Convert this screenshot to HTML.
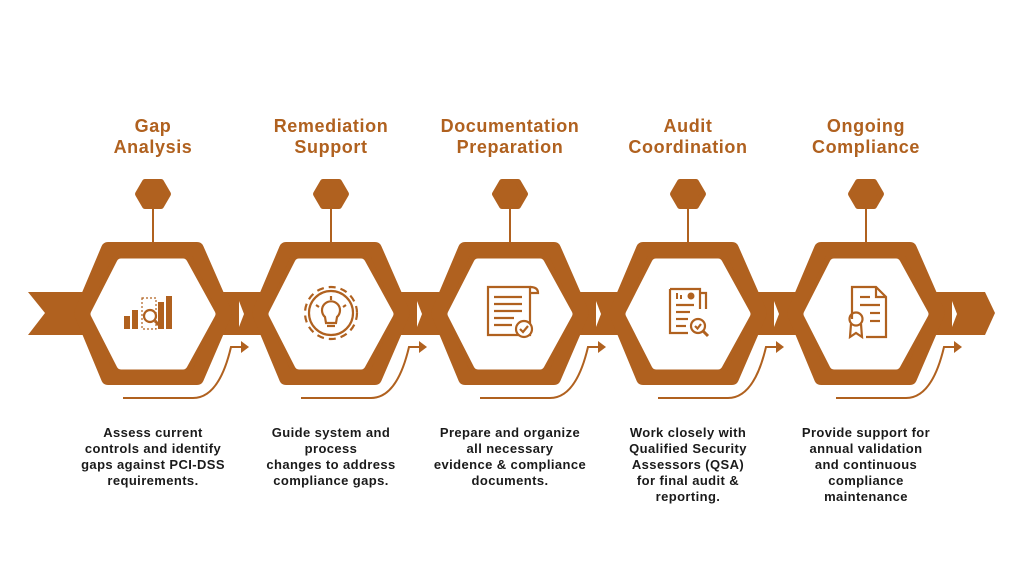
<!DOCTYPE html>
<html><head><meta charset="utf-8"><style>
html,body{margin:0;padding:0;background:#fff;}
svg{display:block}
.t{font-family:"Liberation Sans",sans-serif;font-weight:bold;font-size:18px;letter-spacing:0.6px;fill:#b0611f;text-anchor:middle}
.d{font-family:"Liberation Sans",sans-serif;font-weight:bold;font-size:13px;letter-spacing:0.4px;fill:#1a1a1a;text-anchor:middle}
</style></head><body>
<svg width="1024" height="576" viewBox="0 0 1024 576" xmlns="http://www.w3.org/2000/svg">
<defs>
<linearGradient id="g" x1="0" y1="0" x2="0" y2="1" gradientUnits="userSpaceOnUse" y1="255" y2="372">
<stop offset="0" stop-color="#dadada"/><stop offset="0.45" stop-color="#fbfbfb"/><stop offset="1" stop-color="#ffffff"/>
</linearGradient>
<g id="node">
<polygon points="-8,182 8,182 15,194 8,206 -8,206 -15,194" fill="#b0611f" stroke="#b0611f" stroke-width="6" stroke-linejoin="round"/>
<line x1="0" y1="209" x2="0" y2="244" stroke="#b0611f" stroke-width="2"/>
<polygon points="-45,249 44,249 72,313 44,378 -45,378 -72,313" fill="#b0611f" stroke="#b0611f" stroke-width="14" stroke-linejoin="round"/>
<polygon points="-32,263 30,263 58,314 30,365 -32,365 -58,314" fill="url(#g)" stroke="url(#g)" stroke-width="9" stroke-linejoin="round"/>
<path d="M-30 398 L40 398 Q66 398 78 347 L90 347" fill="none" stroke="#b0611f" stroke-width="2"/>
<polygon points="88,341 96,347 88,353" fill="#b0611f"/>
</g>
</defs>
<polygon points="28,292 985,292 995,313 985,335 28,335 45,313" fill="#b0611f"/>
<use href="#node" x="153"/>
<use href="#node" x="331"/>
<use href="#node" x="510"/>
<use href="#node" x="688"/>
<use href="#node" x="866"/>
<g fill="#fff">
<polygon points="239,301 244,314 239,327"/>
<polygon points="417,301 422,314 417,327"/>
<polygon points="596,301 601,314 596,327"/>
<polygon points="774,301 779,314 774,327"/>
<polygon points="952,301 957,314 952,327"/>
</g>
<g fill="none" stroke="#b0611f" stroke-width="2.2">
<g>
<rect x="124" y="316" width="6" height="13" fill="#b0611f" stroke="none"/>
<rect x="132" y="310" width="6" height="19" fill="#b0611f" stroke="none"/>
<rect x="142" y="298" width="14" height="31" stroke-dasharray="2 2" stroke-width="1.2"/>
<rect x="158" y="302" width="6" height="27" fill="#b0611f" stroke="none"/>
<rect x="166" y="296" width="6" height="33" fill="#b0611f" stroke="none"/>
<circle cx="150" cy="316" r="6"/>
<line x1="155" y1="321" x2="161" y2="327" stroke-width="3"/>
</g>
<g transform="translate(331,313)">
<circle r="26" stroke-dasharray="7 5"/>
<circle r="22"/>
<path d="M-6 4 A9 9 0 1 1 6 4 L5 10 L-5 10 Z"/>
<line x1="-4" y1="13" x2="4" y2="13"/>
<line x1="0" y1="-17" x2="0" y2="-13" /><line x1="-12" y1="-6" x2="-15" y2="-8"/><line x1="12" y1="-6" x2="15" y2="-8"/>
</g>
<g transform="translate(510,313)">
<path d="M-22 -26 H20 V22 H-22 Z"/>
<path d="M20 -26 Q28 -26 28 -20 H20"/>
<line x1="-16" y1="-16" x2="12" y2="-16"/><line x1="-16" y1="-9" x2="12" y2="-9"/><line x1="-16" y1="-2" x2="12" y2="-2"/><line x1="-16" y1="5" x2="4" y2="5"/><line x1="-16" y1="12" x2="2" y2="12"/>
<circle cx="14" cy="16" r="8" fill="#fff"/>
<path d="M10 16 L13 19 L18 13"/>
</g>
<g transform="translate(688,313)">
<path d="M-18 -24 H12 V-4 M-18 -24 V20 H0"/>
<path d="M12 -20 H18 V-4"/>
<line x1="-12" y1="-8" x2="6" y2="-8"/><line x1="-12" y1="-1" x2="2" y2="-1"/><line x1="-12" y1="6" x2="0" y2="6"/><line x1="-12" y1="13" x2="-2" y2="13"/>
<rect x="-12" y="-20" width="2" height="6" fill="#b0611f" stroke="none"/><rect x="-8" y="-18" width="2" height="4" fill="#b0611f" stroke="none"/>
<circle cx="3" cy="-17" r="3.5" fill="#b0611f" stroke="none"/>
<circle cx="10" cy="13" r="7" fill="#fff"/>
<path d="M7 13 L9.5 15.5 L13 11"/>
<line x1="15" y1="18" x2="20" y2="23" stroke-width="3"/>
</g>
<g transform="translate(866,313)">
<path d="M-14 6 V-26 H10 L20 -16 V24 H0"/>
<path d="M10 -26 V-16 H20"/>
<line x1="-6" y1="-16" x2="4" y2="-16"/><line x1="-6" y1="-8" x2="14" y2="-8"/><line x1="4" y1="0" x2="14" y2="0"/><line x1="4" y1="8" x2="14" y2="8"/>
<circle cx="-10" cy="6" r="6.5"/>
<path d="M-15 11 L-16 24 L-10 20 L-4 24 L-5 11"/>
</g>
</g>
<text class="t" x="153" y="132">Gap</text><text class="t" x="153" y="153">Analysis</text>
<text class="t" x="331" y="132">Remediation</text><text class="t" x="331" y="153">Support</text>
<text class="t" x="510" y="132">Documentation</text><text class="t" x="510" y="153">Preparation</text>
<text class="t" x="688" y="132">Audit</text><text class="t" x="688" y="153">Coordination</text>
<text class="t" x="866" y="132">Ongoing</text><text class="t" x="866" y="153">Compliance</text>
<text class="d" x="153" y="437">Assess current</text><text class="d" x="153" y="453">controls and identify</text><text class="d" x="153" y="469">gaps against PCI-DSS</text><text class="d" x="153" y="485">requirements.</text>
<text class="d" x="331" y="437">Guide system and</text><text class="d" x="331" y="453">process</text><text class="d" x="331" y="469">changes to address</text><text class="d" x="331" y="485">compliance gaps.</text>
<text class="d" x="510" y="437">Prepare and organize</text><text class="d" x="510" y="453">all necessary</text><text class="d" x="510" y="469">evidence &amp; compliance</text><text class="d" x="510" y="485">documents.</text>
<text class="d" x="688" y="437">Work closely with</text><text class="d" x="688" y="453">Qualified Security</text><text class="d" x="688" y="469">Assessors (QSA)</text><text class="d" x="688" y="485">for final audit &amp;</text><text class="d" x="688" y="501">reporting.</text>
<text class="d" x="866" y="437">Provide support for</text><text class="d" x="866" y="453">annual validation</text><text class="d" x="866" y="469">and continuous</text><text class="d" x="866" y="485">compliance</text><text class="d" x="866" y="501">maintenance</text>
</svg>
</body></html>
